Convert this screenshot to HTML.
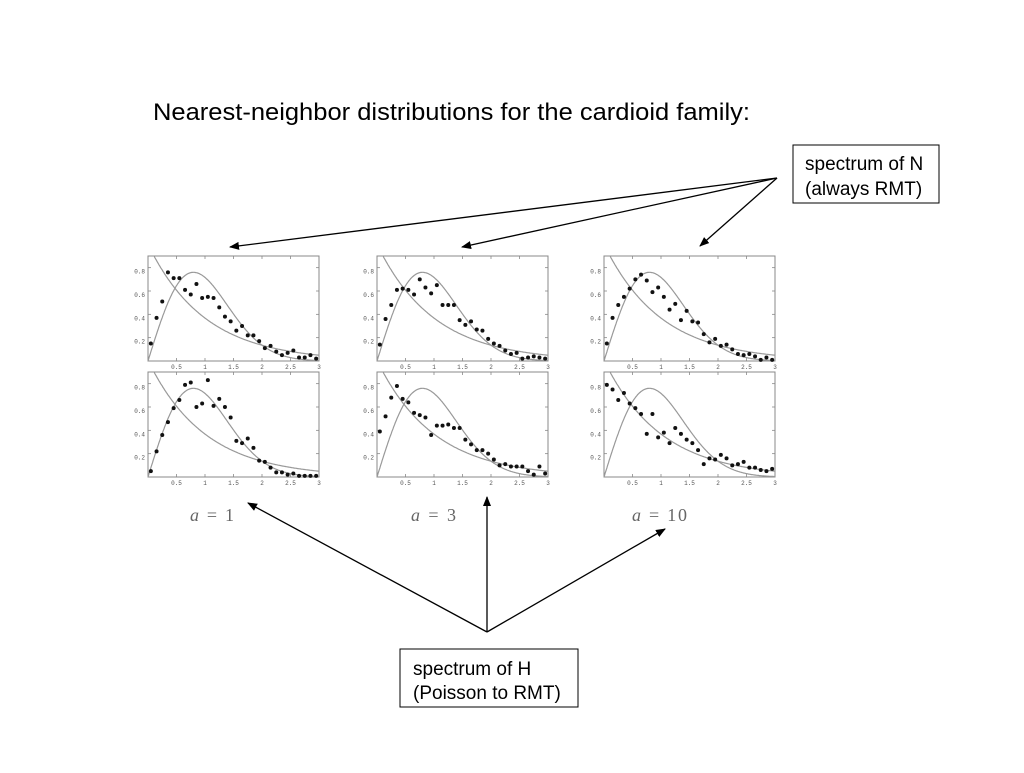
<!DOCTYPE html>
<html><head><meta charset="utf-8"><style>
body{margin:0;width:1024px;height:768px;background:#fff;overflow:hidden;font-family:"Liberation Sans",sans-serif}
</style></head><body>
<svg id="chart" width="1024" height="768" viewBox="0 0 1024 768" xmlns="http://www.w3.org/2000/svg">
<defs><marker id="ah" markerWidth="10" markerHeight="8" refX="9" refY="4" orient="auto" markerUnits="userSpaceOnUse"><path d="M0,0 L10,4 L0,8 Z" fill="#000"/></marker></defs>
<text x="153" y="120" font-size="24" textLength="597" lengthAdjust="spacingAndGlyphs" font-family="Liberation Sans, sans-serif" fill="#000">Nearest-neighbor distributions for the cardioid family:</text>
<g>
<rect x="793" y="145" width="146" height="58" fill="#fff" stroke="#000" stroke-width="1"/>
<text x="805" y="170" font-size="19">spectrum of N</text>
<text x="805" y="195" font-size="19">(always RMT)</text>
</g>
<g stroke="#000" stroke-width="1.3">
<line x1="777" y1="178" x2="230" y2="247" marker-end="url(#ah)"/>
<line x1="777" y1="178" x2="462" y2="247" marker-end="url(#ah)"/>
<line x1="777" y1="178" x2="700" y2="246" marker-end="url(#ah)"/>
</g>
<g>
<rect x="400" y="649" width="178" height="58" fill="#fff" stroke="#000" stroke-width="1"/>
<text x="413" y="675" font-size="19">spectrum of H</text>
<text x="413" y="699" font-size="19">(Poisson to RMT)</text>
</g>
<g stroke="#000" stroke-width="1.3">
<line x1="487" y1="632" x2="248" y2="503" marker-end="url(#ah)"/>
<line x1="487" y1="632" x2="487" y2="497" marker-end="url(#ah)"/>
<line x1="487" y1="632" x2="665" y2="529" marker-end="url(#ah)"/>
</g>
<g font-family="Liberation Serif, serif" font-size="18" fill="#666" font-style="italic">
<text x="190" y="521" textLength="44" lengthAdjust="spacing"><tspan>a</tspan><tspan font-style="normal"> = 1</tspan></text>
<text x="411" y="521" textLength="45" lengthAdjust="spacing"><tspan>a</tspan><tspan font-style="normal"> = 3</tspan></text>
<text x="632" y="521" textLength="55" lengthAdjust="spacing"><tspan>a</tspan><tspan font-style="normal"> = 10</tspan></text>
</g>
<g id="panels"></g>
</svg>
<script>
const xs = [0.05,0.15,0.25,0.35,0.45,0.55,0.65,0.75,0.85,0.95,1.05,1.15,1.25,1.35,1.45,1.55,1.65,1.75,1.85,1.95,2.05,2.15,2.25,2.35,2.45,2.55,2.65,2.75,2.85,2.95];
const a1N = [0.15,0.37,0.51,0.76,0.71,0.71,0.61,0.57,0.66,0.54,0.55,0.54,0.46,0.38,0.34,0.26,0.30,0.22,0.22,0.17,0.11,0.13,0.08,0.05,0.07,0.09,0.03,0.03,0.05,0.02];
const a1H = [0.05,0.22,0.36,0.47,0.59,0.66,0.79,0.81,0.60,0.63,0.83,0.61,0.67,0.60,0.51,0.31,0.29,0.33,0.25,0.14,0.13,0.08,0.04,0.04,0.02,0.03,0.01,0.01,0.01,0.01];
const a3N = [0.14,0.36,0.48,0.61,0.62,0.61,0.57,0.70,0.63,0.58,0.65,0.48,0.48,0.48,0.35,0.31,0.34,0.27,0.26,0.19,0.15,0.13,0.09,0.06,0.07,0.02,0.03,0.04,0.03,0.02];
const a3H = [0.39,0.52,0.68,0.78,0.67,0.64,0.55,0.53,0.51,0.36,0.44,0.44,0.45,0.42,0.42,0.32,0.28,0.23,0.23,0.20,0.15,0.10,0.11,0.09,0.09,0.09,0.05,0.02,0.09,0.03];
const a10N = [0.15,0.37,0.48,0.55,0.62,0.70,0.74,0.69,0.59,0.63,0.55,0.44,0.49,0.35,0.43,0.34,0.33,0.23,0.16,0.19,0.13,0.14,0.10,0.06,0.05,0.06,0.04,0.01,0.03,0.01];
const a10H = [0.79,0.75,0.66,0.72,0.63,0.59,0.54,0.37,0.54,0.34,0.38,0.29,0.42,0.37,0.32,0.29,0.23,0.11,0.16,0.15,0.19,0.16,0.10,0.11,0.13,0.08,0.08,0.06,0.05,0.07];
const xTicks = [0.5,1,1.5,2,2.5,3];
const xTickLabels = ["0.5","1","1.5","2","2.5","3"];
const yTicks = [0.2,0.4,0.6,0.8];
const yTickLabels = ["0.2","0.4","0.6","0.8"];

const NS="http://www.w3.org/2000/svg";
const root=document.getElementById('panels');
function mk(tag,attrs,parent){const e=document.createElementNS(NS,tag);for(const k in attrs)e.setAttribute(k,attrs[k]);parent.appendChild(e);return e;}
const panels=[
 {x:148,y:256,d:a1N,n:'a1-n'},{x:148,y:372,d:a1H,n:'a1-h'},
 {x:377,y:256,d:a3N,n:'a3-n'},{x:377,y:372,d:a3H,n:'a3-h'},
 {x:604,y:256,d:a10N,n:'a10-n'},{x:604,y:372,d:a10H,n:'a10-h'}];
const W=171,H=105,YMAX=0.9;
panels.forEach(p=>{
 const g=mk('g',{},root);
 
 
 const sx=v=>p.x+v/3*W, sy=v=>p.y+H-v/YMAX*H;
 const fr=mk('rect',{x:p.x,y:p.y,width:W,height:H,fill:'none',stroke:'#888','stroke-width':1},g);
 
 
 xTicks.forEach((t,i)=>{
  mk('line',{x1:sx(t),x2:sx(t),y1:p.y+H,y2:p.y+H-3,stroke:'#888','stroke-width':0.8},g);
  mk('line',{x1:sx(t),x2:sx(t),y1:p.y,y2:p.y+3,stroke:'#888','stroke-width':0.8},g);
  const tx=mk('text',{x:sx(t),y:p.y+H+8,'font-size':6,'text-anchor':'middle',fill:'#555','font-family':'Liberation Mono, monospace'},g);
  tx.textContent=xTickLabels[i];
  
  
 });
 yTicks.forEach((t,i)=>{
  mk('line',{x1:p.x,x2:p.x+3,y1:sy(t),y2:sy(t),stroke:'#888','stroke-width':0.8},g);
  mk('line',{x1:p.x+W,x2:p.x+W-3,y1:sy(t),y2:sy(t),stroke:'#888','stroke-width':0.8},g);
  const tx=mk('text',{x:p.x-3,y:sy(t)+6,'font-size':6,'text-anchor':'end',fill:'#555','font-family':'Liberation Mono, monospace'},g);
  tx.textContent=yTickLabels[i];
  
  
 });
 let pw='',pp='';
 for(let i=0;i<=300;i++){const s=i/100;
  const w=Math.PI/2*s*Math.exp(-Math.PI*s*s/4);
  pw+=(i?'L':'M')+sx(s).toFixed(1)+','+sy(w).toFixed(1);
  const po=Math.exp(-s);
  if(po<=YMAX) pp+=(pp?'L':'M')+sx(s).toFixed(1)+','+sy(po).toFixed(1);
 }
 const c1=mk('path',{d:pw,fill:'none',stroke:'#999','stroke-width':1.2},g);
 
 
 const c2=mk('path',{d:pp,fill:'none',stroke:'#999','stroke-width':1.2},g);
 
 
 p.d.forEach((v,i)=>{
  const c=mk('circle',{cx:sx(xs[i]),cy:sy(v),r:2,fill:'#111'},g);
  
  
 });
});
</script>
</body></html>
